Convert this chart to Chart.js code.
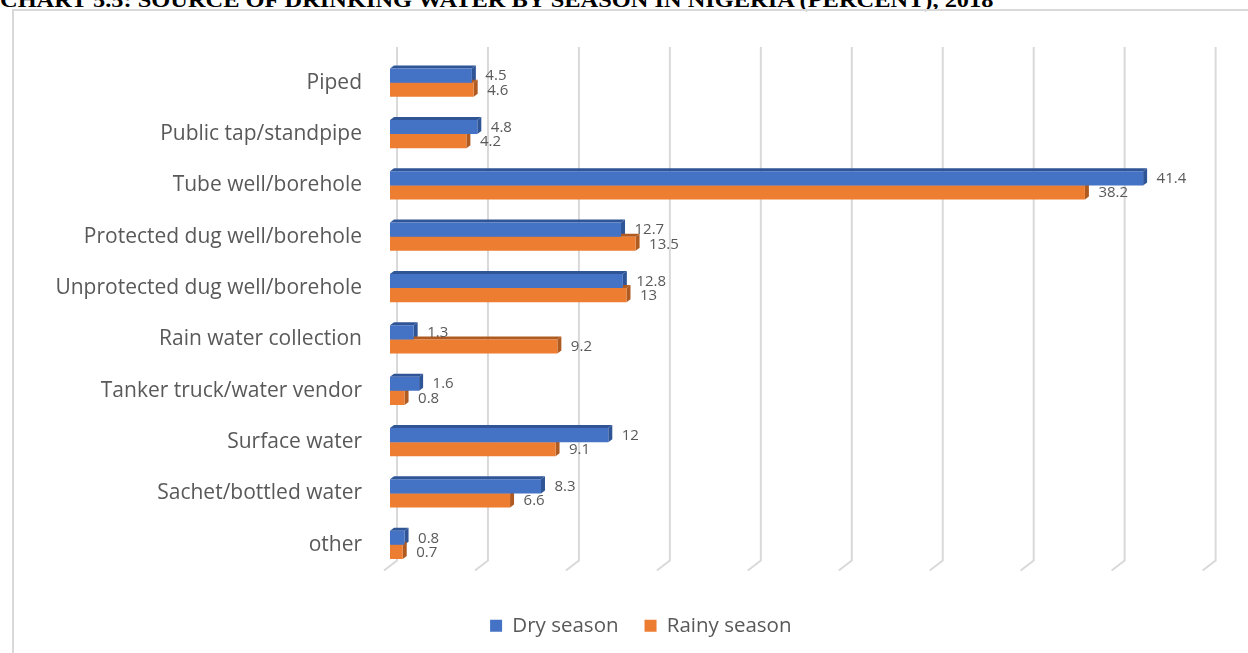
<!DOCTYPE html>
<html>
<head>
<meta charset="utf-8">
<script src="https://cdn.jsdelivr.net/npm/chart.js@4.4.0/dist/chart.umd.min.js"></script>
<style>
  html, body { margin: 0; padding: 0; background: #fff; overflow: hidden; width: 1248px; height: 653px; }
  #title { position: absolute; left: 0; top: -11px; font: bold 22px "Liberation Serif", "Times New Roman", serif; line-height: 22px; white-space: nowrap; color: #000; transform-origin: 0 0; }
  #frame { position: absolute; left: 12px; top: 9px; width: 1300px; height: 700px; border: 2px solid #d9d9d9; }
  #wrap { position: absolute; left: 0; top: 0; width: 1248px; height: 646px; }
</style>
</head>
<body>
<div id="title">CHART 5.5: SOURCE OF DRINKING WATER BY SEASON IN NIGERIA (PERCENT), 2018</div>
<div id="frame"></div>
<div id="wrap"><canvas id="chart"></canvas></div>
<script>
// --- data ---
const categories = [
    'Piped',
    'Public tap/standpipe',
    'Tube well/borehole',
    'Protected dug well/borehole',
    'Unprotected dug well/borehole',
    'Rain water collection',
    'Tanker truck/water vendor',
    'Surface water',
    'Sachet/bottled water',
    'other'
];
const drySeason = [4.5, 4.8, 41.4, 12.7, 12.8, 1.3, 1.6, 12, 8.3, 0.8];
const rainySeason = [4.6, 4.2, 38.2, 13.5, 13, 9.2, 0.8, 9.1, 6.6, 0.7];
const seriesNames = ['Dry season', 'Rainy season'];
const xMin = 0, xMax = 45, xStep = 5;

// squeeze the title to the width it has in the picture
const title = document.getElementById('title');
title.style.transform = 'scaleX(' + (993 / title.offsetWidth) + ')';

const DX = 4, DY = 3;     // depth of the fake 3d bars

// back-wall gridlines and the top/right faces of the bars (drawn under the fronts)
const bar3d = {
    id: 'bar3d',
    afterLayout(chart) {
        // legend is centred under the plot, not under the whole canvas
        chart.legend.left = 73;
    },
    beforeDatasetsDraw(chart) {
        const { ctx, chartArea, scales: { x } } = chart;
        ctx.save();
        ctx.strokeStyle = '#d9d9d9';
        ctx.lineWidth = 2;
        x.ticks.forEach(t => {
            const px = x.getPixelForValue(t.value);
            ctx.beginPath();
            ctx.moveTo(px + 7, chartArea.top - 10);
            ctx.lineTo(px + 7, chartArea.bottom - 10);
            ctx.lineTo(px - 6, chartArea.bottom);
            ctx.stroke();
        });
        chart.data.datasets.forEach((ds, i) => {
            chart.getDatasetMeta(i).data.forEach(bar => {
                const top = bar.y - bar.height / 2, bottom = bar.y + bar.height / 2;
                ctx.fillStyle = ds.sideColor;
                ctx.beginPath();
                ctx.moveTo(bar.base, top);
                ctx.lineTo(bar.x, top);
                ctx.lineTo(bar.x + DX, top - DY);
                ctx.lineTo(bar.base + DX, top - DY);
                ctx.closePath();
                ctx.fill();
                ctx.beginPath();
                ctx.moveTo(bar.x, top);
                ctx.lineTo(bar.x + DX, top - DY);
                ctx.lineTo(bar.x + DX, bottom - DY);
                ctx.lineTo(bar.x, bottom);
                ctx.closePath();
                ctx.fill();
            });
        });
        ctx.restore();
    },
    afterDatasetsDraw(chart) {
        const { ctx } = chart;
        ctx.save();
        ctx.fillStyle = '#595959';
        ctx.font = '15px "Open Sans"';
        ctx.textAlign = 'left';
        ctx.textBaseline = 'middle';
        chart.data.datasets.forEach((ds, i) => {
            chart.getDatasetMeta(i).data.forEach((bar, j) => {
                ctx.fillText(String(ds.data[j]), bar.x + 13.5, bar.y + 0.5);
            });
        });
        ctx.restore();
    }
};

new Chart(document.getElementById('chart'), {
    type: 'bar',
    data: {
        labels: categories,
        datasets: [
            { label: seriesNames[0], data: drySeason, backgroundColor: '#4472c4', sideColor: '#2f5597' },
            { label: seriesNames[1], data: rainySeason, backgroundColor: '#ed7d31', sideColor: '#ae5a21' }
        ]
    },
    plugins: [bar3d],
    options: {
        indexAxis: 'y',
        responsive: true,
        maintainAspectRatio: false,
        animation: false,
        categoryPercentage: 0.55,
        barPercentage: 1.0,
        layout: { padding: { top: 57, left: 0, right: 39.4, bottom: 0 } },
        plugins: {
            tooltip: { enabled: false },
            legend: {
                position: 'bottom',
                labels: {
                    color: '#595959',
                    font: { family: 'Open Sans', size: 20.5 },
                    boxWidth: 12,
                    boxHeight: 12,
                    padding: 26
                }
            }
        },
        scales: {
            x: {
                min: xMin, max: xMax,
                ticks: { stepSize: xStep, display: false },
                grid: { display: false },
                border: { display: false },
                afterFit(scale) { scale.height = 19; }
            },
            y: {
                grid: { display: false, drawTicks: false },
                border: { display: false },
                ticks: { color: '#595959', font: { family: 'Open Sans', size: 21 }, padding: 28 },
                afterFit(scale) { scale.width = 390; }
            }
        }
    }
});
</script>
</body>
</html>
